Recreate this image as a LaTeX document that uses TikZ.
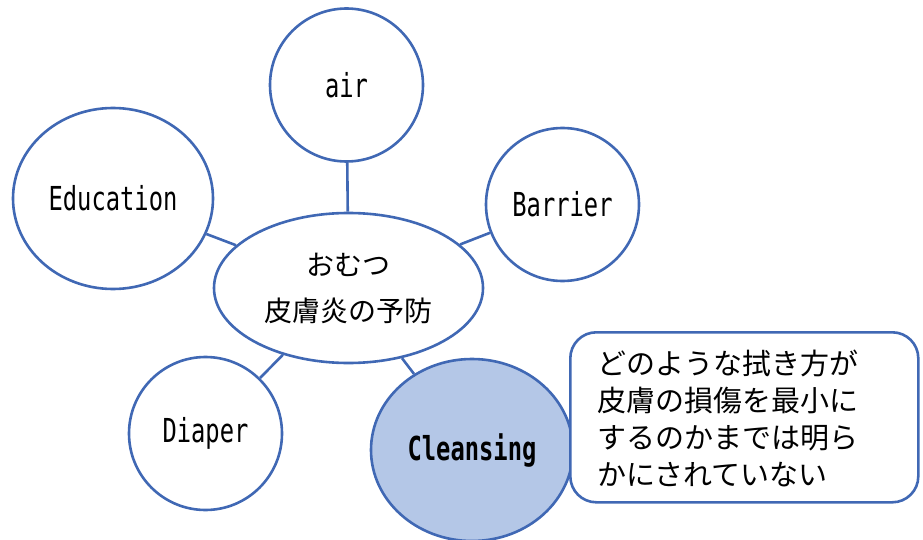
\documentclass[tikz,border=0pt]{standalone}
\usepackage{fontspec}
\setmainfont{Noto Sans CJK JP}
\newfontfamily\latinmono[FakeStretch=0.72]{DejaVu Sans Mono}
\usetikzlibrary{shapes.geometric}
\definecolor{officeblue}{HTML}{4068B4}
\definecolor{lightfill}{HTML}{B4C7E7}
\begin{document}
\begin{tikzpicture}[x=1pt,y=-1pt,
  bub/.style={draw=officeblue,line width=2.6pt,fill=white,inner sep=0pt},
  circ/.style={bub,circle,minimum size=153pt},
  ell/.style={bub,ellipse},
  lat/.style={font=\latinmono\fontsize{33}{38}\selectfont},
  conn/.style={draw=officeblue,line width=2.6pt}]
\useasboundingbox (0,0) rectangle (923,540);
\coordinate (cc) at (348.5,288);
\node[ell,minimum width=269pt,minimum height=150pt,align=center,
  font=\fontsize{28}{46}\selectfont] (center) at (cc) {おむつ\\皮膚炎の予防};
\node[circ,lat] (air) at (346.5,85) {air};
\node[ell,lat,minimum width=200pt,minimum height=181pt] (edu) at (113,198.5) {Education};
\node[circ,lat] (bar) at (562.5,204.5) {Barrier};
\node[circ,lat] (dia) at (205.5,433.5) {Diaper};
\node[ell,lat,fill=lightfill,minimum width=202pt,minimum height=182pt,font=\latinmono\bfseries\fontsize{33}{38}\selectfont] (cle) at (472,450) {Cleansing};
\draw[conn] (center) -- (air);
\draw[conn] (center) -- (edu);
\draw[conn] (center) -- (bar);
\draw[conn] (center) -- (dia);
\draw[conn] (center) -- (cle);
\node[draw=officeblue,line width=2.6pt,fill=white,rounded corners=26pt,
  minimum width=348pt,minimum height=170pt,inner sep=0pt,anchor=north west] (call) at (569,331) {};
\node[anchor=west,align=left,font=\fontsize{29}{37}\selectfont,inner sep=0pt] (calltext) at ([xshift=28pt,yshift=-1pt]call.west)
  {どのような拭き方が\\皮膚の損傷を最小に\\するのかまでは明ら\\かにされていない};
\end{tikzpicture}
\end{document}
